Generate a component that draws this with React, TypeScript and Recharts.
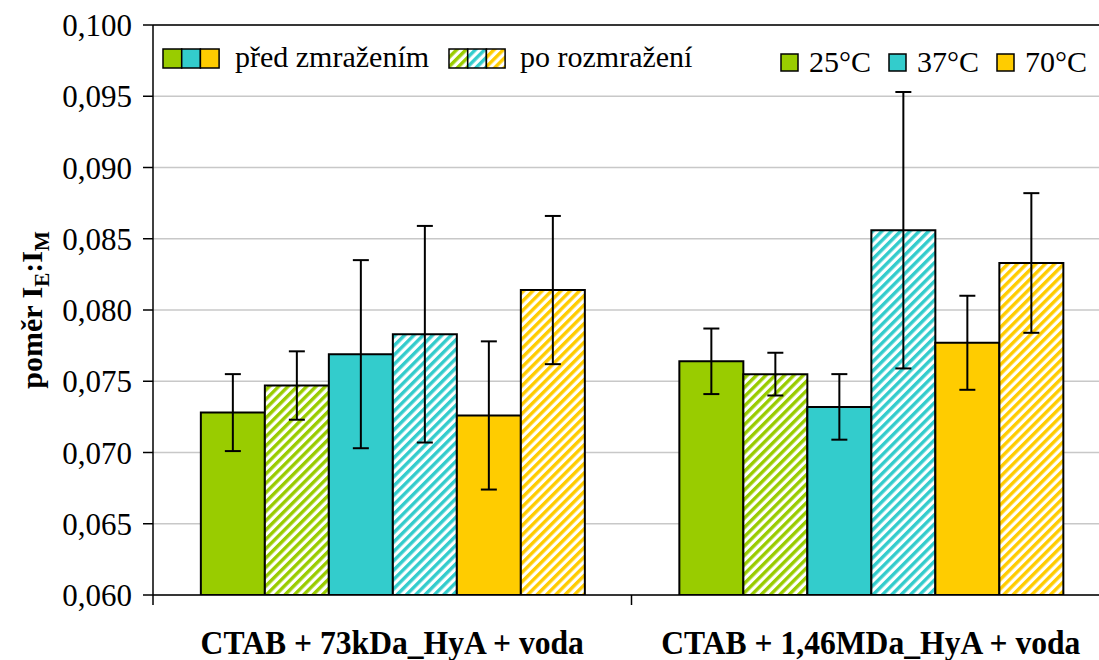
import { BarChart, Bar, XAxis, YAxis, CartesianGrid, ErrorBar, ReferenceLine } from 'recharts';

const categories = ['CTAB + 73kDa_HyA + voda', 'CTAB + 1,46MDa_HyA + voda'];

// values per series (one per category)
const val25Before = [0.0728, 0.0764];
const val25After = [0.0747, 0.0755];
const val37Before = [0.0769, 0.0732];
const val37After = [0.0783, 0.0856];
const val70Before = [0.0726, 0.0777];
const val70After = [0.0814, 0.0833];

// error bar half-lengths
const err25Before = [0.0027, 0.0023];
const err25After = [0.0024, 0.0015];
const err37Before = [0.0066, 0.0023];
const err37After = [0.0076, 0.0097];
const err70Before = [0.0052, 0.0033];
const err70After = [0.0052, 0.0049];

const yTicks = [0.06, 0.065, 0.07, 0.075, 0.08, 0.085, 0.09, 0.095, 0.1];

const GREEN = '#99CC00';
const CYAN = '#33CCCC';
const YELLOW = '#FFCC00';
const FONT = '"Liberation Serif", "Times New Roman", serif';

const series = [
  { key: 'b25', err: 'eb25', values: val25Before, errors: err25Before, fill: GREEN },
  { key: 'a25', err: 'ea25', values: val25After, errors: err25After, fill: 'url(#hatchGreen)' },
  { key: 'b37', err: 'eb37', values: val37Before, errors: err37Before, fill: CYAN },
  { key: 'a37', err: 'ea37', values: val37After, errors: err37After, fill: 'url(#hatchCyan)' },
  { key: 'b70', err: 'eb70', values: val70Before, errors: err70Before, fill: YELLOW },
  { key: 'a70', err: 'ea70', values: val70After, errors: err70After, fill: 'url(#hatchYellow)' },
];

const data = categories.map((name, i) => {
  const row: Record<string, string | number> = { name };
  series.forEach((s) => {
    row[s.key] = s.values[i];
    row[s.err] = s.errors[i];
  });
  return row;
});

const CHART_W = 1120;
const CHART_H = 660;
const MARGIN = { top: 25, right: 10, left: 0, bottom: 0 };
const Y_AXIS_W = 153;
const X_AXIS_H = 65;
const bandHalf = (CHART_W - MARGIN.left - MARGIN.right - Y_AXIS_W) / categories.length / 2;

const fmt = (v: number) => v.toFixed(3).replace('.', ',');

function Hatch({ id, color }: { id: string; color: string }) {
  return (
    <pattern id={id} patternUnits="userSpaceOnUse" width="6.6" height="6.6" patternTransform="rotate(45)">
      <rect x="0" y="0" width="6.6" height="6.6" fill="#fff" />
      <rect x="0" y="0" width="3.4" height="6.6" fill={color} />
    </pattern>
  );
}

function CategoryTick(props: any) {
  const { x, y, payload, index } = props;
  const half = payload && payload.offset ? payload.offset : bandHalf;
  return (
    <g>
      <line x1={x - half} y1={y} x2={x - half} y2={y + 10} stroke="#000" strokeWidth={1.5} />
      {index === categories.length - 1 && (
        <line x1={x + half} y1={y} x2={x + half} y2={y + 10} stroke="#000" strokeWidth={1.5} />
      )}
      <g transform={`translate(${x},${y + 59}) scale(0.93,1)`}>
        <text x={0} y={0} textAnchor="middle" fontFamily={FONT} fontWeight="bold" fontSize={34} fill="#000">
          {payload.value}
        </text>
      </g>
    </g>
  );
}

function Swatch({ x, y, w, h, fill }: { x: number; y: number; w: number; h: number; fill: string }) {
  return <rect x={x} y={y} width={w} height={h} fill={fill} stroke="#000" strokeWidth={1.5} />;
}

function Overlay() {
  const textStyle = { fontFamily: FONT, fontSize: 30, fill: '#000' };
  return (
    <svg width={1099} height={660} style={{ position: 'absolute', left: 0, top: 0, pointerEvents: 'none' }}>
      <defs>
        <Hatch id="lgHatchGreen" color={GREEN} />
        <Hatch id="lgHatchCyan" color={CYAN} />
        <Hatch id="lgHatchYellow" color={YELLOW} />
      </defs>
      {/* y axis title */}
      <text
        transform="translate(42,310) rotate(-90)"
        textAnchor="middle"
        fontFamily={FONT}
        fontWeight="bold"
        fontSize={30}
        fill="#000"
      >
        poměr I
        <tspan dy={7} fontSize={21}>E</tspan>
        <tspan dy={-7}>:I</tspan>
        <tspan dy={7} fontSize={21}>M</tspan>
      </text>

      {/* legend: before / after */}
      <Swatch x={163} y={49} w={18.7} h={19} fill={GREEN} />
      <Swatch x={181.7} y={49} w={18.7} h={19} fill={CYAN} />
      <Swatch x={200.4} y={49} w={18.7} h={19} fill={YELLOW} />
      <text x={235} y={67} {...textStyle}>před zmražením</text>
      <Swatch x={449} y={49} w={18.7} h={19} fill="url(#lgHatchGreen)" />
      <Swatch x={467.7} y={49} w={18.7} h={19} fill="url(#lgHatchCyan)" />
      <Swatch x={486.4} y={49} w={18.7} h={19} fill="url(#lgHatchYellow)" />
      <text x={520} y={67} {...textStyle}>po rozmražení</text>

      {/* legend: temperatures */}
      <Swatch x={781} y={54} w={17} h={17} fill={GREEN} />
      <text x={809} y={72} {...textStyle}>25°C</text>
      <Swatch x={889} y={54} w={17} h={17} fill={CYAN} />
      <text x={917} y={72} {...textStyle}>37°C</text>
      <Swatch x={997} y={54} w={17} h={17} fill={YELLOW} />
      <text x={1025} y={72} {...textStyle}>70°C</text>
    </svg>
  );
}

export default function App() {
  return (
    <div style={{ position: 'absolute', left: 0, top: 0, width: 1099, height: 660, overflow: 'hidden', background: '#fff' }}>
      <BarChart
        width={CHART_W}
        height={CHART_H}
        data={data}
        margin={MARGIN}
        barCategoryGap="10%"
        barGap={0}
      >
        <defs>
          <Hatch id="hatchGreen" color={GREEN} />
          <Hatch id="hatchCyan" color={CYAN} />
          <Hatch id="hatchYellow" color={YELLOW} />
        </defs>
        <CartesianGrid vertical={false} stroke="#c8c8c8" strokeWidth={1.5} />
        <ReferenceLine y={0.1} stroke="#000" strokeWidth={1.5} />
        <XAxis
          dataKey="name"
          height={X_AXIS_H}
          tickLine={false}
          tickSize={0}
          tickMargin={0}
          axisLine={{ stroke: '#000', strokeWidth: 1.5 }}
          tick={<CategoryTick />}
          interval={0}
        />
        <YAxis
          width={Y_AXIS_W}
          domain={[0.06, 0.1]}
          ticks={yTicks}
          interval={0}
          allowDataOverflow
          tickFormatter={fmt}
          tickSize={10}
          tickMargin={11}
          axisLine={{ stroke: '#000', strokeWidth: 1.5 }}
          tickLine={{ stroke: '#000', strokeWidth: 1.5 }}
          tick={{ fontSize: 31, fontFamily: FONT, fill: '#000' }}
        />
        {series.map((s) => (
          <Bar key={s.key} dataKey={s.key} fill={s.fill} stroke="#000" strokeWidth={2} isAnimationActive={false}>
            <ErrorBar dataKey={s.err} direction="y" width={8} stroke="#000" strokeWidth={2} isAnimationActive={false} />
          </Bar>
        ))}
      </BarChart>
      <Overlay />
    </div>
  );
}
